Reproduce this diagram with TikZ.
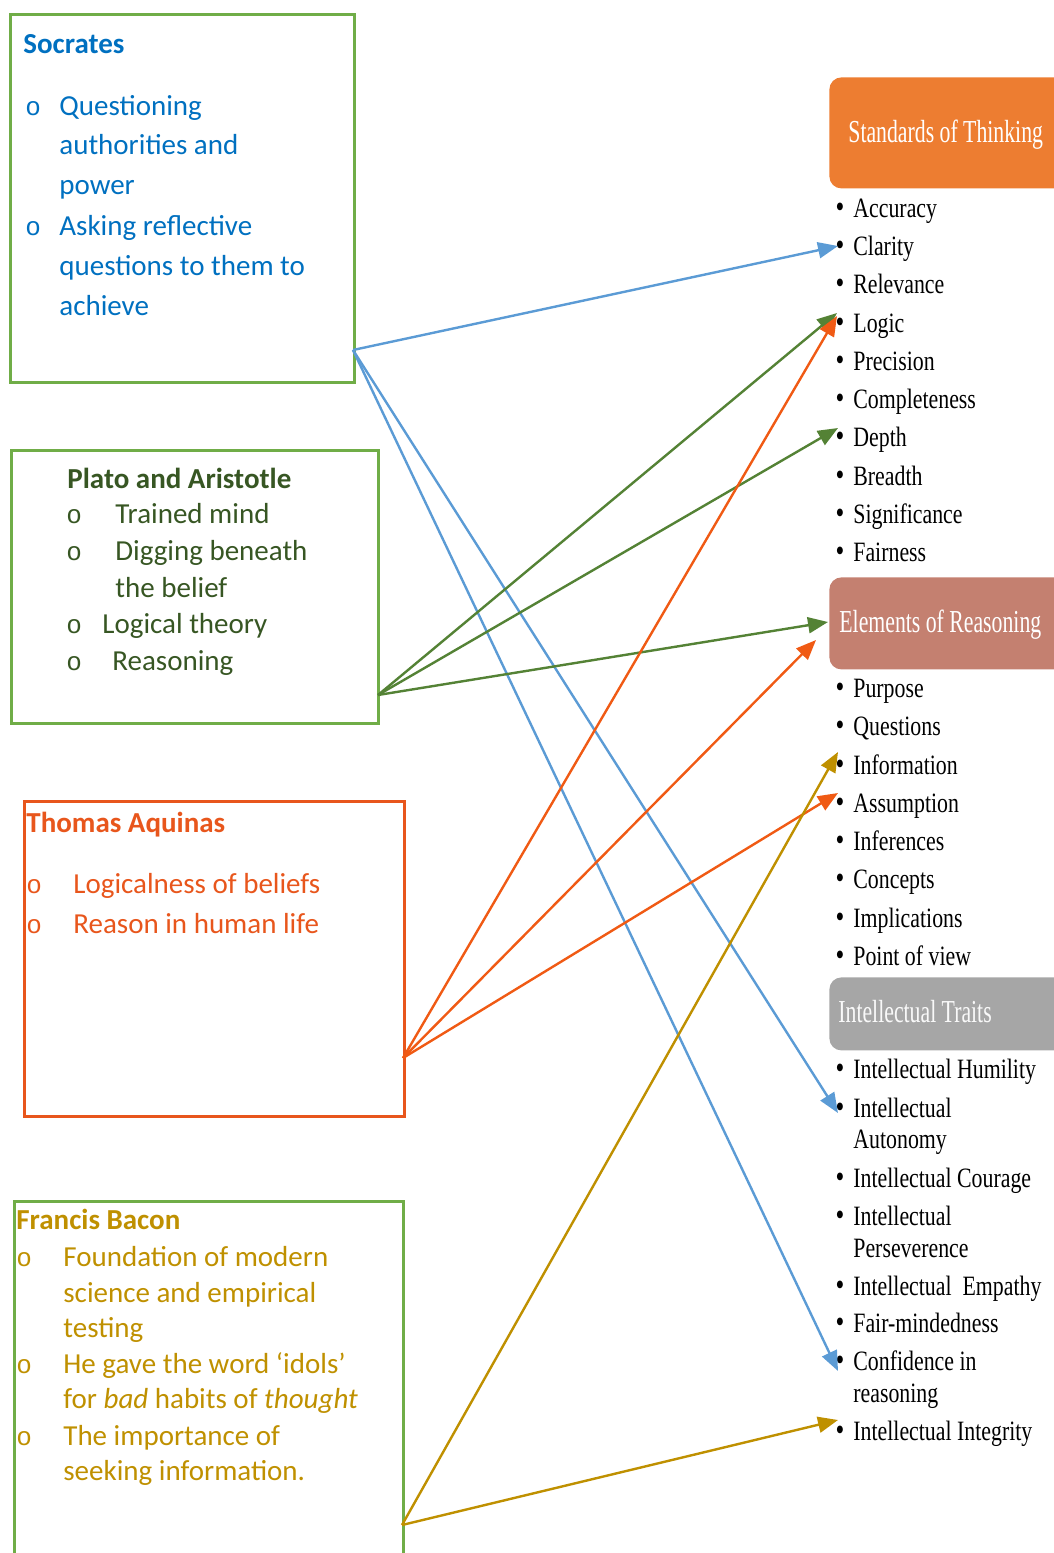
\documentclass[tikz,border=0pt]{standalone}
\usepackage{fontspec}
\setmainfont{Carlito}
\newfontfamily\tnr[FakeStretch=0.78]{Liberation Serif}
\newfontfamily\tnrh[FakeStretch=0.68]{Liberation Serif}
\newfontfamily\cour{Liberation Mono}
\usetikzlibrary{arrows.meta}
\definecolor{boxgreen}{HTML}{70AD47}
\definecolor{socblue}{HTML}{0070C0}
\definecolor{platogreen}{HTML}{375623}
\definecolor{aqorange}{HTML}{E8561C}
\definecolor{bacongold}{HTML}{BF9000}
\definecolor{arrblue}{HTML}{5B9BD5}
\definecolor{arrgreen}{HTML}{548235}
\definecolor{arrorange}{HTML}{F05A14}
\definecolor{stdorange}{HTML}{ED7D31}
\definecolor{elemred}{HTML}{C48070}
\definecolor{traitgray}{HTML}{A6A6A6}
\begin{document}
\begin{tikzpicture}[x=0.5pt,y=-0.5pt,
  box/.style={draw, line width=1.5pt, anchor=north west, inner sep=0pt},
  ltext/.style={anchor=base west, inner sep=0pt, font=\fontsize{14.5}{17}\selectfont},
  obul/.style={anchor=base west, inner sep=0pt, font=\cour\fontsize{13}{15}\selectfont},
  head/.style={anchor=north west, inner sep=0pt, rounded corners=6pt},
  htext/.style={anchor=base west, inner sep=0pt, text=white, font=\tnrh\fontsize{16}{18}\selectfont},
  item/.style={anchor=base west, inner sep=0pt, font=\tnr\fontsize{14}{16}\selectfont},
  bul/.style={anchor=base, inner sep=0pt, font=\tnr\fontsize{16}{16}\selectfont},
  conn/.style={line width=1.2pt, -{Triangle[length=10pt,width=8pt]}}
]
\useasboundingbox (0,0) rectangle (1054,1553);
\clip (0,0) rectangle (1054,1553);

% ---------- left boxes ----------
\node[box, draw=boxgreen, minimum width=172pt, minimum height=184pt] (soc) at (9,13) {};
\node[box, draw=boxgreen, minimum width=183.5pt, minimum height=136.5pt] (pla) at (10,449) {};
\node[box, draw=aqorange, minimum width=190pt, minimum height=157.5pt] (aq) at (23,800) {};
\node[box, draw=boxgreen, minimum width=194.5pt, minimum height=200pt] (ba) at (13,1200) {};

% Socrates
\begin{scope}[every node/.append style={text=socblue}]
\node[ltext, font=\bfseries\fontsize{14.5}{17}\selectfont] (s0) at (23,53) {Socrates};
\node[obul] (so1) at (25,115) {o};
\node[ltext] (s1) at (59,115) {Questioning};
\node[ltext] (s2) at (59,154) {authorities and};
\node[ltext] (s3) at (59,194) {power};
\node[obul] (so2) at (25,235) {o};
\node[ltext] (s4) at (59,235) {Asking reflective};
\node[ltext] (s5) at (59,275) {questions to them to};
\node[ltext] (s6) at (59,315) {achieve};
\end{scope}

% Plato and Aristotle
\begin{scope}[every node/.append style={text=platogreen}]
\node[ltext, font=\bfseries\fontsize{14.5}{17}\selectfont] (p0) at (67,488) {Plato and Aristotle};
\node[obul] (po1) at (66,523) {o};
\node[ltext] (p1) at (115,523) {Trained mind};
\node[obul] (po2) at (66,560) {o};
\node[ltext] (p2) at (115,560) {Digging beneath};
\node[ltext] (p3) at (115,597) {the belief};
\node[obul] (po3) at (66,633) {o};
\node[ltext] (p4) at (102,633) {Logical theory};
\node[obul] (po4) at (66,670) {o};
\node[ltext] (p5) at (112,670) {Reasoning};
\end{scope}

% Thomas Aquinas
\begin{scope}[every node/.append style={text=aqorange}]
\node[ltext, font=\bfseries\fontsize{14.5}{17}\selectfont] (a0) at (26,832) {Thomas Aquinas};
\node[obul] (ao1) at (26,893) {o};
\node[ltext] (a1) at (73,893) {Logicalness of beliefs};
\node[obul] (ao2) at (26,933) {o};
\node[ltext] (a2) at (73,933) {Reason in human life};
\end{scope}

% Francis Bacon
\begin{scope}[every node/.append style={text=bacongold}]
\node[ltext, font=\bfseries\fontsize{14.5}{17}\selectfont] (f0) at (16,1229) {Francis Bacon};
\node[obul] (fo1) at (16,1266) {o};
\node[ltext] (f1) at (63,1266) {Foundation of modern};
\node[ltext] (f2) at (63,1302) {science and empirical};
\node[ltext] (f3) at (63,1337) {testing};
\node[obul] (fo2) at (16,1373) {o};
\node[ltext] (f4) at (63,1373) {He gave the word ‘idols’};
\node[ltext] (f5) at (63,1408) {for \textit{bad} habits of \textit{thought}};
\node[obul] (fo3) at (16,1445) {o};
\node[ltext] (f6) at (63,1445) {The importance of};
\node[ltext] (f7) at (63,1480) {seeking information.};
\end{scope}

% ---------- right headers ----------
\node[head, fill=stdorange, minimum width=120.5pt, minimum height=55.5pt] (hstd) at (829,77) {};
\node[htext] (thstd) at (848,142) {Standards of Thinking};
\node[head, fill=elemred, minimum width=120.5pt, minimum height=46pt] (hel) at (829,577) {};
\node[htext] (thel) at (839,632) {Elements of Reasoning};
\node[head, fill=traitgray, minimum width=120.5pt, minimum height=36.5pt] (htr) at (829,977) {};
\node[htext, text=white!95!gray] (thtr) at (838,1022) {Intellectual Traits};

% ---------- right lists ----------
\foreach \n/\y/\t in {acc/217/Accuracy, cla/255/Clarity, rel/293/Relevance, log/332/Logic,
  pre/370/Precision, com/408/Completeness, dep/446/Depth, bre/485/Breadth,
  sig/523/Significance, fai/561/Fairness,
  pur/697/Purpose, que/735/Questions, inf/774/Information, ass/812/Assumption,
  ifr/850/Inferences, con/888/Concepts, imp/927/Implications, pov/965/Point of view,
  hum/1078/Intellectual Humility, aut/1117/Intellectual, cou/1187/Intellectual Courage,
  per/1225/Intellectual, emp/1295/Intellectual~~Empathy, fmi/1332/Fair-mindedness,
  cfd/1370/Confidence in, itg/1440/Intellectual Integrity}
{
  \node[bul] (b\n) at (840,\y) {\textbullet};
  \node[item] (i\n) at (853,\y) {\t};
}
\node[item] (iaut2) at (853,1148) {Autonomy};
\node[item] (iper2) at (853,1257) {Perseverence};
\node[item] (icfd2) at (853,1402) {reasoning};

% ---------- connector ends ----------
\coordinate (sSoc) at (353,350);
\coordinate (sPla) at (378,695);
\coordinate (sAq) at (403,1058);
\coordinate (sBa) at (402,1525);
\coordinate (tCla) at (838,246);
\coordinate (tLogG) at (837,313);
\coordinate (tLogO) at (837,316);
\coordinate (tDep) at (838,428);
\coordinate (tElG) at (828,622);
\coordinate (tElO) at (816,640);
\coordinate (tInf) at (838,752);
\coordinate (tAss) at (838,793);
\coordinate (tAut) at (838,1113);
\coordinate (tCon) at (838,1371);
\coordinate (tInt) at (838,1420);

% ---------- connectors ----------
\draw[conn, arrblue] (sSoc) -- (tCla);
\draw[conn, arrblue] (sSoc) -- (tAut);
\draw[conn, arrblue] (sSoc) -- (tCon);
\draw[conn, arrgreen] (sPla) -- (tLogG);
\draw[conn, arrgreen] (sPla) -- (tDep);
\draw[conn, arrgreen] (sPla) -- (tElG);
\draw[conn, arrorange] (sAq) -- (tLogO);
\draw[conn, arrorange] (sAq) -- (tElO);
\draw[conn, arrorange] (sAq) -- (tAss);
\draw[conn, bacongold] (sBa) -- (tInf);
\draw[conn, bacongold] (sBa) -- (tInt);
\end{tikzpicture}
\end{document}
